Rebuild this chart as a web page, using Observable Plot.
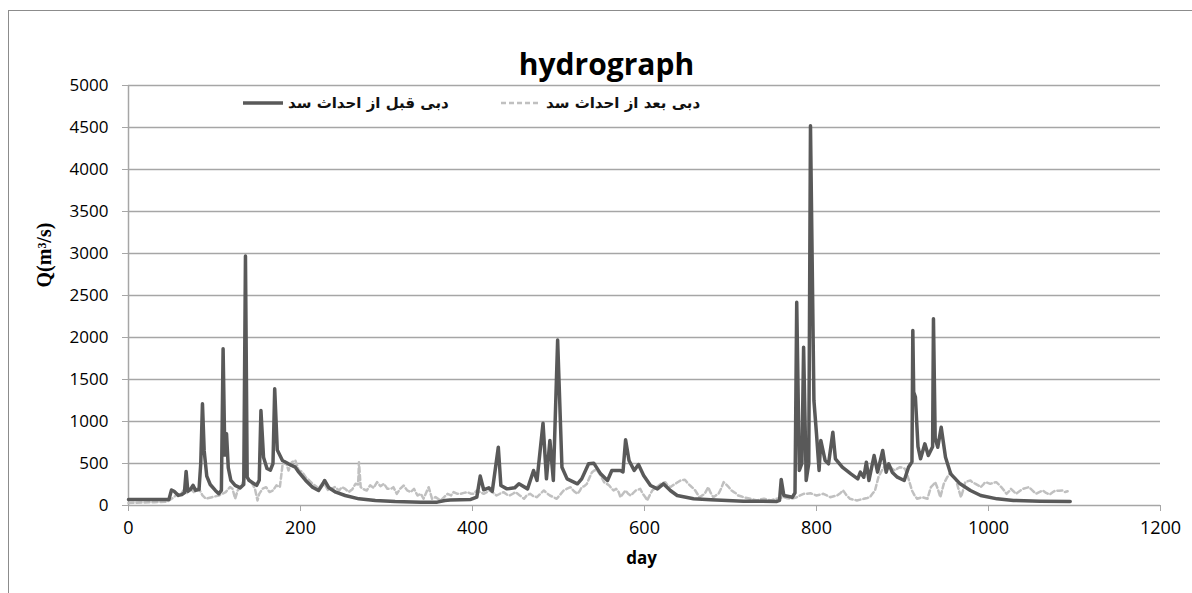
<!DOCTYPE html>
<html>
<head>
<meta charset="utf-8">
<script src="https://cdn.jsdelivr.net/npm/d3@7"></script>
<script src="https://cdn.jsdelivr.net/npm/@observablehq/plot@0.6"></script>
<style>
  body { margin: 0; background: #fff; }
  #wrap { position: relative; width: 1192px; height: 593px; overflow: hidden; }
  #frame { position: absolute; left: 8px; top: 10px; right: -5px; bottom: -5px;
           border-left: 1.5px solid #8c8c8c; border-top: 1.5px solid #8c8c8c; pointer-events: none; }
  .item { position: absolute; top: 94px; display: flex; align-items: center; white-space: nowrap;
          font-family: "DejaVu Sans", sans-serif; font-size: 15px; font-weight: bold; color: #111; }
  .item span { margin-left: 5px; }
  svg [aria-label="y-axis tick label"] { font-family: "Open Sans", sans-serif; font-size: 17px; fill: #000; }
  svg [aria-label="x-axis tick label"] { font-family: "Open Sans", sans-serif; font-size: 18px; fill: #000; }
</style>
</head>
<body>
<div id="wrap">
  <div id="chart"></div>
  <div class="item" style="left:243px">
    <svg width="40" height="10"><line x1="0" y1="5" x2="40" y2="5" stroke="#595959" stroke-width="3.5"/></svg>
    <span>دبی قبل از احداث سد</span>
  </div>
  <div class="item" style="left:501px">
    <svg width="40" height="10"><line x1="0" y1="5" x2="40" y2="5" stroke="#c0c0c0" stroke-width="2.5" stroke-dasharray="5,3"/></svg>
    <span>دبی بعد از احداث سد</span>
  </div>
  <div id="frame"></div>
</div>
<script>
// Axis ticks
const xTicks = [0, 200, 400, 600, 800, 1000, 1200];
const yTicks = [0, 500, 1000, 1500, 2000, 2500, 3000, 3500, 4000, 4500, 5000];

// Discharge before the dam (day, m3/s)
const beforeDay = [0, 20, 47, 50, 53, 58, 62, 65, 67, 69, 72, 75, 78, 82, 84, 86, 88, 91, 95, 101, 105, 108, 110, 112, 114, 116, 119, 124, 130, 134, 136, 138, 140, 146, 149, 152, 154, 157, 161, 165, 168, 170, 173, 179, 186, 194, 198, 206, 214, 221, 225, 228, 233, 241, 252, 268, 287, 310, 340, 359, 368, 374, 398, 405, 409, 413, 419, 423, 430, 433, 440, 449, 454, 464, 471, 475, 482, 486, 490, 494, 499, 504, 510, 522, 527, 535, 541, 549, 557, 562, 572, 575, 578, 582, 588, 593, 599, 607, 615, 622, 630, 638, 657, 677, 715, 754, 757, 759, 762, 772, 775, 777, 780, 783, 785, 788, 791, 793, 797, 800, 803, 805, 810, 814, 819, 822, 830, 840, 848, 851, 855, 858, 861, 867, 871, 877, 881, 884, 888, 894, 902, 907, 911, 912, 913, 915, 918, 921, 926, 930, 935, 936, 938, 941, 945, 950, 956, 967, 979, 991, 1010, 1029, 1060, 1095];
const beforeQ = [70, 70, 72, 185, 170, 120, 130, 150, 405, 170, 190, 240, 180, 190, 500, 1210, 650, 350, 250, 180, 140, 180, 1865, 600, 853, 450, 300, 240, 210, 250, 2970, 340, 300, 260, 240, 300, 1130, 575, 440, 420, 500, 1390, 660, 536, 496, 456, 397, 298, 218, 179, 240, 298, 210, 159, 119, 79, 60, 48, 40, 40, 60, 65, 72, 100, 350, 187, 210, 170, 694, 238, 198, 210, 258, 198, 417, 298, 980, 317, 774, 298, 1970, 456, 317, 258, 317, 496, 504, 377, 298, 417, 417, 400, 782, 536, 417, 488, 357, 238, 198, 258, 179, 119, 80, 68, 52, 48, 60, 310, 119, 99, 150, 2420, 417, 500, 1885, 298, 500, 4520, 1250, 853, 417, 774, 536, 496, 873, 556, 456, 377, 317, 397, 337, 516, 298, 595, 397, 655, 397, 496, 397, 337, 298, 456, 520, 2083, 1350, 1290, 700, 556, 734, 595, 700, 2222, 800, 694, 932, 575, 377, 258, 179, 119, 79, 60, 52, 48];

// Discharge after the dam (day, m3/s)
const afterDay = [0, 15, 30, 45, 50, 53, 57, 60, 64, 68, 72, 76, 80, 82, 86, 90, 97, 105, 113, 118, 121, 124, 127, 130, 134, 136, 140, 143, 147, 150, 152, 156, 160, 164, 168, 172, 176, 179, 183, 186, 190, 194, 198, 202, 206, 210, 214, 218, 221, 225, 229, 232, 236, 240, 245, 248, 252, 256, 260, 264, 267, 268, 270, 274, 277, 281, 285, 289, 293, 297, 301, 305, 308, 312, 316, 320, 324, 328, 332, 336, 340, 343, 346, 349, 353, 357, 363, 367, 371, 375, 378, 382, 386, 390, 394, 398, 401, 405, 409, 413, 417, 420, 424, 428, 432, 436, 440, 443, 447, 450, 455, 460, 463, 467, 471, 475, 479, 483, 486, 490, 494, 498, 502, 506, 510, 514, 518, 522, 525, 527, 530, 533, 536, 539, 542, 545, 549, 553, 556, 559, 562, 564, 567, 570, 572, 575, 578, 581, 584, 587, 590, 595, 598, 601, 603, 606, 609, 614, 619, 624, 627, 630, 633, 636, 639, 642, 647, 650, 653, 656, 659, 662, 664, 667, 670, 674, 677, 680, 683, 686, 689, 692, 695, 698, 701, 704, 707, 709, 712, 715, 719, 723, 727, 731, 735, 739, 743, 747, 751, 754, 758, 762, 766, 770, 774, 777, 781, 785, 789, 793, 797, 800, 804, 808, 812, 816, 820, 824, 828, 831, 835, 839, 843, 847, 851, 855, 859, 862, 865, 868, 872, 876, 880, 883, 886, 889, 891, 894, 897, 900, 903, 907, 911, 914, 917, 920, 923, 926, 929, 933, 936, 938, 941, 944, 948, 952, 956, 959, 962, 965, 968, 971, 973, 976, 979, 982, 985, 988, 991, 994, 996, 999, 1002, 1006, 1009, 1012, 1015, 1018, 1021, 1024, 1026, 1029, 1032, 1036, 1040, 1044, 1047, 1051, 1055, 1059, 1063, 1067, 1071, 1075, 1078, 1082, 1086, 1089, 1092];
const afterQ = [30, 35, 40, 45, 80, 100, 140, 120, 180, 150, 200, 160, 200, 198, 120, 80, 99, 119, 159, 220, 198, 80, 180, 218, 300, 337, 317, 278, 200, 60, 139, 200, 218, 160, 179, 240, 218, 476, 516, 417, 516, 536, 417, 400, 337, 300, 258, 230, 198, 260, 238, 180, 198, 220, 179, 218, 198, 160, 190, 258, 250, 516, 218, 190, 179, 240, 210, 278, 230, 258, 200, 198, 218, 139, 200, 238, 180, 159, 198, 119, 139, 80, 150, 218, 80, 100, 60, 100, 139, 120, 159, 140, 139, 150, 159, 140, 139, 179, 159, 139, 160, 179, 150, 119, 140, 159, 130, 119, 140, 159, 120, 80, 120, 139, 110, 99, 140, 179, 150, 119, 100, 80, 130, 179, 200, 218, 170, 139, 180, 218, 230, 258, 330, 397, 420, 417, 357, 278, 260, 238, 200, 179, 198, 160, 99, 140, 179, 140, 119, 150, 179, 198, 140, 99, 60, 120, 179, 218, 258, 278, 240, 218, 240, 258, 280, 298, 306, 270, 238, 210, 179, 130, 99, 120, 139, 218, 150, 99, 120, 139, 200, 278, 250, 218, 180, 159, 140, 119, 110, 99, 90, 80, 70, 60, 75, 80, 70, 60, 75, 80, 90, 99, 85, 80, 90, 99, 120, 139, 140, 147, 130, 119, 130, 139, 120, 99, 110, 119, 150, 179, 120, 80, 70, 60, 70, 80, 90, 99, 140, 179, 337, 417, 476, 470, 456, 430, 417, 440, 456, 450, 437, 317, 179, 120, 80, 90, 99, 90, 80, 218, 250, 278, 200, 99, 258, 337, 397, 350, 317, 200, 99, 200, 278, 290, 298, 270, 258, 240, 218, 250, 278, 270, 258, 270, 278, 250, 218, 180, 139, 170, 198, 170, 139, 170, 198, 210, 218, 180, 139, 160, 179, 150, 131, 160, 179, 175, 179, 160, 170];

const before = beforeDay.map((d, i) => ({day: d, q: beforeQ[i]}));
const after = afterDay.map((d, i) => ({day: d, q: afterQ[i]}));

const chart = Plot.plot({
  width: 1192,
  height: 593,
  marginLeft: 128,
  marginRight: 32,
  marginTop: 85,
  marginBottom: 88,
  style: {background: "transparent", fontFamily: "Open Sans, sans-serif", overflow: "visible"},
  x: {domain: [0, 1200]},
  y: {domain: [0, 5000]},
  marks: [
    Plot.gridY(yTicks.filter(t => t > 0), {stroke: "#a6a6a6", strokeOpacity: 1, strokeWidth: 1.5}),
    Plot.ruleY([0], {stroke: "#a6a6a6", strokeWidth: 1.5}),
    Plot.ruleX([0], {stroke: "#a6a6a6", strokeWidth: 1.5}),
    Plot.axisY({ticks: yTicks, tickSize: 6, tickPadding: 14, label: null, stroke: "#a6a6a6", tickFormat: d => String(d)}),
    Plot.axisX({ticks: xTicks, tickSize: 6, tickPadding: 10, label: null, stroke: "#a6a6a6", tickFormat: d => String(d)}),
    Plot.line(after, {x: "day", y: "q", stroke: "#c0c0c0", strokeWidth: 2.5, strokeDasharray: "5,3"}),
    Plot.line(before, {x: "day", y: "q", stroke: "#595959", strokeWidth: 3.5}),
    Plot.text(["hydrograph"], {frameAnchor: "top", dx: -38, dy: -32, fontSize: 30, fontWeight: "bold", fontFamily: "Open Sans, sans-serif", fill: "#000"}),
    Plot.text(["day"], {frameAnchor: "bottom", dx: -3, dy: 58, fontSize: 17, fontWeight: "bold", fontFamily: "Open Sans, sans-serif", fill: "#000"}),
    Plot.text(["Q(m³/s)"], {frameAnchor: "left", dx: -84, dy: -8, rotate: -90, fontSize: 20, fontWeight: "bold", fontFamily: "Liberation Serif, serif", fill: "#000"})
  ]
});
document.getElementById("chart").append(chart);
</script>
</body>
</html>
